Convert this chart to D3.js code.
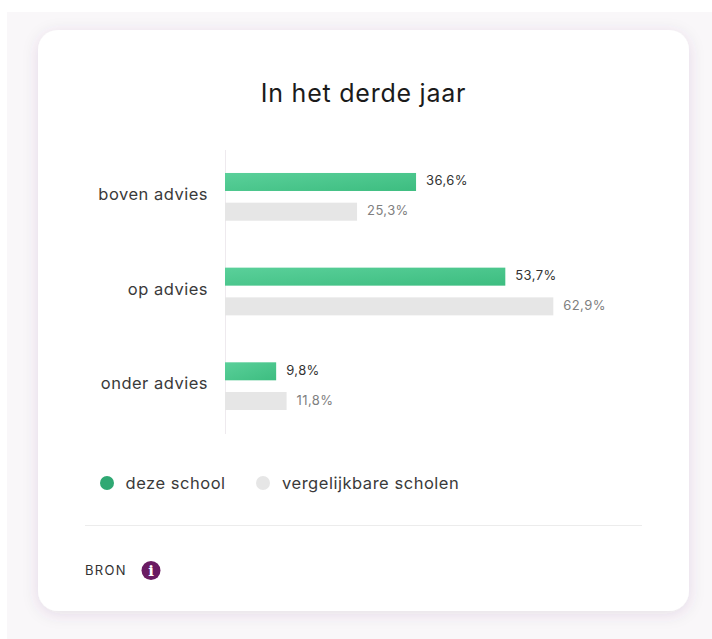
<!DOCTYPE html>
<html><head><meta charset="utf-8">
<script src="https://cdn.jsdelivr.net/npm/d3@7"></script>
<style>
html,body{margin:0;padding:0;background:#fff;overflow:hidden}
svg{display:block}
text{font-family:Inter,"Open Sans",sans-serif}
</style></head><body>
<svg id="c" width="712" height="639"></svg>
<script>
const categories = ["boven advies", "op advies", "onder advies"];
const seriesNames = ["deze school", "vergelijkbare scholen"];
const dezeSchool = [36.6, 53.7, 9.8];
const vergelijkbaar = [25.3, 62.9, 11.8];
const title = "In het derde jaar";
const sourceLabel = "BRON";
const fmt = v => v.toFixed(1).replace(".", ",") + "%";

const svg = d3.select("#c");
const defs = svg.append("defs");
const grad = defs.append("linearGradient").attr("id","g").attr("x1","0").attr("y1","0").attr("x2","1").attr("y2","1");
grad.append("stop").attr("offset","0").attr("stop-color","#5ad09a");
grad.append("stop").attr("offset","1").attr("stop-color","#3dbd80");
const sh = defs.append("filter").attr("id","s").attr("x","-10%").attr("y","-10%").attr("width","120%").attr("height","120%");
sh.append("feDropShadow").attr("dx",0).attr("dy",3).attr("stdDeviation",8).attr("flood-color","#5a2a66").attr("flood-opacity",0.12);

svg.append("rect").attr("x",7).attr("y",12).attr("width",705).attr("height",627).attr("fill","#f9f7f9");
svg.append("rect").attr("x",38).attr("y",30).attr("width",651).attr("height",581).attr("rx",20).attr("fill","#fff").attr("filter","url(#s)");

svg.append("text").attr("x",363.5).attr("y",102).attr("text-anchor","middle").attr("font-size",25).attr("letter-spacing",0.76).attr("fill","#1b1b1b").text(title);

const x = d3.scaleLinear().domain([0,100]).range([225,747]);
const y = d3.scaleBand().domain(categories).range([149.5,433.5]);
const inner = d3.scaleBand().domain(seriesNames).range([0,y.bandwidth()]).paddingInner(0.394).paddingOuter(0.79);

const axis = d3.axisLeft(y).tickSize(0).tickPadding(17);
const ax = svg.append("g").attr("transform","translate(225,0)").call(axis);
ax.select(".domain").attr("stroke","#eeeaee").attr("stroke-width",1);
ax.selectAll("text").attr("font-size",16.5).attr("letter-spacing",0.5).attr("fill","#3a3a3a").attr("dy","0.2em").style("font-family","Inter");

const rows = [
  {name:seriesNames[0], values:dezeSchool, fill:"url(#g)", label:"#333333"},
  {name:seriesNames[1], values:vergelijkbaar, fill:"#e6e6e6", label:"#808080"}
];
rows.forEach(r => {
  const g = svg.append("g");
  g.selectAll("rect").data(r.values).join("rect")
    .attr("x",x(0)).attr("y",(d,i)=>y(categories[i])+inner(r.name))
    .attr("width",d=>x(d)-x(0)).attr("height",inner.bandwidth()).attr("fill",r.fill);
  g.selectAll("text").data(r.values).join("text")
    .attr("x",d=>x(d)+10).attr("y",(d,i)=>y(categories[i])+inner(r.name)+inner.bandwidth()/2+3.5)
    .attr("font-size",13).attr("letter-spacing",0.4).attr("fill",r.label).text(fmt);
});

const legend = [{x:107,tx:125.5,c:"#2fa873"},{x:263,tx:282,c:"#e6e6e6"}];
legend.forEach((l,i)=>{
  svg.append("circle").attr("cx",l.x).attr("cy",483).attr("r",7).attr("fill",l.c);
  svg.append("text").attr("x",l.tx).attr("y",489).attr("font-size",16.5).attr("letter-spacing",0.53).attr("fill","#3a3a3a").text(seriesNames[i]);
});

svg.append("line").attr("x1",85).attr("x2",642).attr("y1",525.5).attr("y2",525.5).attr("stroke","#ececec");
svg.append("text").attr("x",85).attr("y",575).attr("font-size",13).attr("letter-spacing",1.35).attr("fill","#333").text(sourceLabel);
svg.append("circle").attr("cx",151).attr("cy",570.5).attr("r",9.5).attr("fill","#6a1b62");
svg.append("text").attr("x",151).attr("y",576).attr("text-anchor","middle").attr("font-size",15).attr("font-weight",700).attr("fill","#fff").style("font-family","'DejaVu Serif'").text("i");
</script></body></html>
